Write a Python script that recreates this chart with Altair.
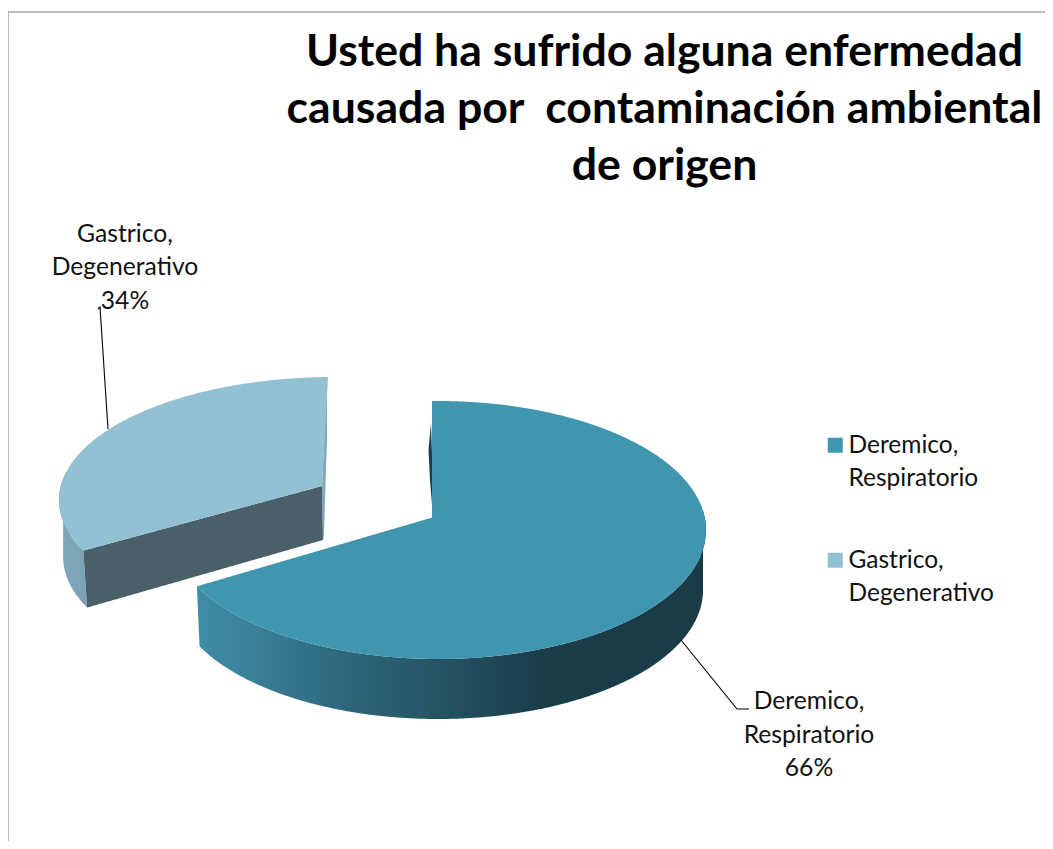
import numpy as np
import pandas as pd
import altair as alt

# ---- chart content -------------------------------------------------
categories = ["Deremico, Respiratorio", "Gastrico, Degenerativo"]
values = [66, 34]
top_colors = ["#4095AF", "#93C1D4"]
title_lines = ["Usted ha sufrido alguna enfermedad",
               "causada por \u00a0contaminación ambiental",
               "de origen"]

# ---- drawing geometry of the tilted pie, in page pixels -------------
PAGE_W, PAGE_H = 1037, 833
START_DEG = -1.5
big = dict(c=(438, 530), r=(268, 129), persp=0.16, depth=60, taper=0.989, apex=(434, 517))
small = dict(c=(334, 500), r=(275, 123), persp=0.19, depth=57, taper=0.985, apex=(322, 486), apex_low=(323, 540))

shares = np.array(values) / sum(values)
big_end = START_DEG + 360 * shares[0]
small_end = START_DEG + 360


def rim(s, deg, low=False):
    """Point of a slice's rim at a pie angle (clockwise from the top), seen in perspective."""
    deg = np.asarray(deg, float)
    th = np.radians(deg)
    e = s["persp"]
    cos_p = (np.cos(th) + e) / (1 + e * np.cos(th))
    sin_p = np.sin(th) * np.sqrt(1 - e ** 2) / (1 + e * np.cos(th))
    k = s["taper"] if low else 1.0
    dy = s["depth"] if low else 0
    return np.column_stack([s["c"][0] + k * s["r"][0] * sin_p,
                            s["c"][1] + dy - s["r"][1] * cos_p])


def arc(s, a, b, low=False, n=220):
    return rim(s, np.linspace(a, b, n), low)


def spans(poly, key):
    """Turn a closed outline into x / upper y / lower y rows for an area mark."""
    poly = np.asarray(poly)
    nxt = np.roll(poly, -1, axis=0)
    xs = np.unique(np.concatenate([
        np.arange(poly[:, 0].min(), poly[:, 0].max(), 1.0),
        poly[:, 0] - 1e-3, poly[:, 0] + 1e-3]))
    rows = []
    for x in xs:
        hit = []
        for (x1, y1), (x2, y2) in zip(poly, nxt):
            if (x1 <= x < x2) or (x2 <= x < x1):
                hit.append(y1 + (x - x1) * (y2 - y1) / (x2 - x1))
        if hit:
            rows.append({"x": float(x), "y": float(min(hit)), "y2": float(max(hit)), "key": key})
    return pd.DataFrame(rows)


x_scale = alt.Scale(domain=[8, 8 + PAGE_W], range=[0, PAGE_W], nice=False, zero=False)
y_scale = alt.Scale(domain=[8, 8 + PAGE_H], range=[0, PAGE_H], nice=False, zero=False)
X = alt.X("x:Q", scale=x_scale, axis=None)
Y = alt.Y("y:Q", scale=y_scale, axis=None)


def solid(poly, fill):
    return alt.Chart(spans(poly, "w")).mark_area(color=fill, orient="vertical", interpolate="linear").encode(
        x=X, y=Y, y2="y2:Q")


def shaded(poly, stops):
    grad = alt.Gradient(gradient="linear", x1=0, x2=1, y1=0, y2=0,
                        stops=[alt.GradientStop(offset=o, color=c) for o, c in stops])
    return alt.Chart(spans(poly, "w")).mark_area(color=grad, orient="vertical", interpolate="linear").encode(
        x=X, y=Y, y2="y2:Q")


# walls
big_wall = np.vstack([arc(big, 90, big_end), arc(big, big_end, 90, low=True)])
big_sliver = np.array([[431, 423], [428.5, 450], [430, 480], [433, 517], [434, 517]])
small_outer = np.vstack([arc(small, big_end, 272), arc(small, 272, big_end, low=True)])
tip = rim(small, [big_end])[0]
tip_low = rim(small, [big_end], low=True)[0]
small_inner = np.array([tip, small["apex"], small["apex_low"], tip_low])
small_sliver = np.array([[327, 378], [327, 440], [325, 500], [324, 535], [323, 540], [322, 486]])

walls = [
    shaded(big_wall, [(0, "#3E8DA7"), (0.12, "#3A7F96"), (0.25, "#2F6C81"), (0.42, "#28596B"),
                      (0.58, "#1F4856"), (0.67, "#1A3D4A"), (1, "#1A3C49")]),
    solid(big_sliver, "#1A3C49"),
    shaded(small_outer, [(0, "#7DA8BA"), (1, "#7BA3B5")]),
    solid(small_sliver, "#7FA9BB"),
    solid(small_inner, "#4A6068"),
]

# top faces: coloured through the category scale, so the legend belongs to them
big_face = np.vstack([arc(big, START_DEG, big_end), [big["apex"]]])
small_face = np.vstack([arc(small, big_end, small_end), [small["apex"]]])
faces = pd.concat([spans(big_face, categories[0]), spans(small_face, categories[1])])
legend = alt.Legend(title=None, orient="none", legendX=815, legendY=425,
                    symbolType="square", symbolSize=225, symbolStrokeWidth=0,
                    labelFont="Lato", labelFontSize=24.5, labelColor="#111111",
                    labelLimit=300, labelOffset=1, rowPadding=57, labelBaseline="top",
                    labelExpr="split(replace(datum.label, ', ', ',|'), '|')")
face_layer = alt.Chart(faces).mark_area(orient="vertical", interpolate="linear").encode(
    x=X, y=Y, y2="y2:Q",
    color=alt.Color("key:N", scale=alt.Scale(domain=categories, range=top_colors), legend=legend))

# leader lines and data labels
leaders = pd.DataFrame({
    "key": ["a", "a", "a", "b", "b", "b"],
    "x": [98, 100, 108, 681, 737, 749],
    "y": [309, 307, 429, 640, 709, 709],
    "n": [0, 1, 2, 0, 1, 2],
})
leader_layer = alt.Chart(leaders).mark_line(color="#000000", strokeWidth=1.1).encode(
    x=X, y=Y, detail="key:N", order="n:Q")

labels = pd.DataFrame({
    "label": [f"{c.replace(', ', ',' + chr(10))}\n{v}%" for c, v in zip(categories, values)],
    "x": [809, 125],
    "y": [689, 221.5],
})
label_layer = alt.Chart(labels).mark_text(
    font="Lato", fontSize=24.7, lineBreak="\n", lineHeight=33.5, align="center", baseline="top",
    color="#111111").encode(x=X, y=Y, text="label:N")

# the thin chart frame
frame = pd.DataFrame({"x": [8, 8], "y": [12, 12], "x2": [1045, 8], "y2": [12, 841]})
frame_layer = alt.Chart(frame).mark_rule(color="#A6A6A6", strokeWidth=1.5).encode(
    x=X, y=Y, x2="x2:Q", y2="y2:Q")

chart = alt.layer(frame_layer, *walls, face_layer, leader_layer, label_layer).properties(
    width=PAGE_W, height=PAGE_H,
    padding=0,
    autosize=alt.AutoSizeParams(type="none"),
    title=alt.TitleParams(text=title_lines, font="Lato", fontSize=44.6, fontWeight="bold",
                          color="#000000", anchor="middle", lineHeight=57, dx=138, dy=230,
                          baseline="bottom"),
    config=alt.Config(view=alt.ViewConfig(stroke=None),
                      style={"guide-label": {"lineHeight": 33, "dy": -11}}),
)

chart.save("out.html", embed_options={"renderer": "svg", "actions": False})
